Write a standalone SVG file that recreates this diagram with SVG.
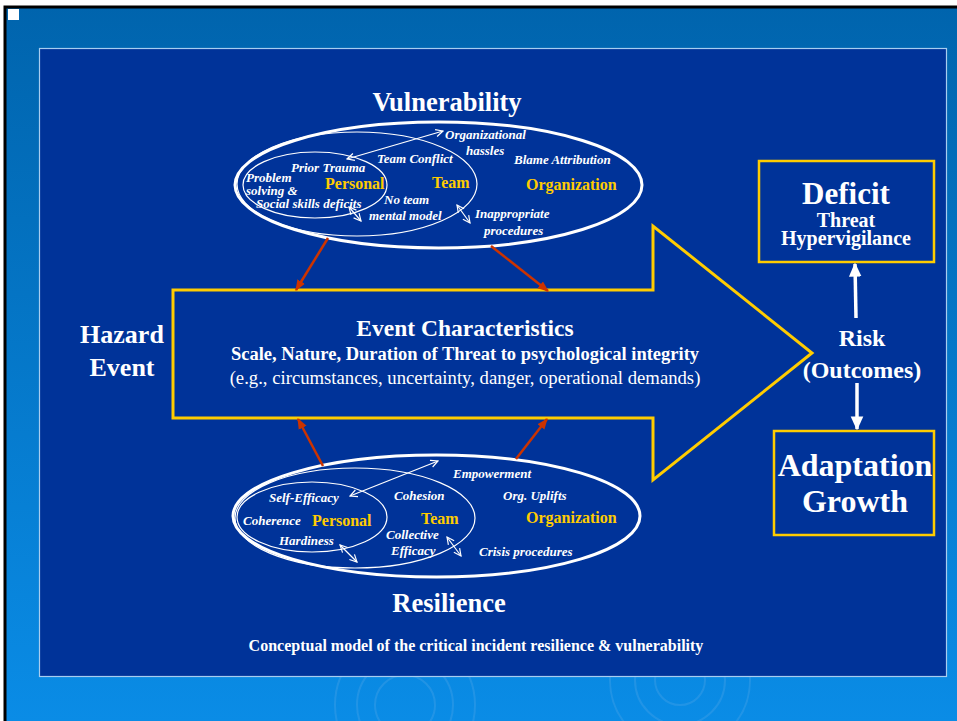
<svg xmlns="http://www.w3.org/2000/svg" width="957" height="721" viewBox="0 0 957 721">
<defs>
<linearGradient id="bg" x1="0" y1="0" x2="0" y2="1">
<stop offset="0" stop-color="#0064AD"/>
<stop offset="1" stop-color="#0A8CE6"/>
</linearGradient>
<marker id="wopen" viewBox="0 0 10 10" refX="9" refY="5" markerWidth="9" markerHeight="9" markerUnits="userSpaceOnUse" orient="auto-start-reverse">
<path d="M1,1 L9,5 L1,9" fill="none" stroke="#fff" stroke-width="1.3"/>
</marker>
<marker id="red" viewBox="0 0 10 10" refX="9" refY="5" markerWidth="11" markerHeight="11" markerUnits="userSpaceOnUse" orient="auto">
<path d="M0,1 L10,5 L0,9 Z" fill="#CC3300"/>
</marker>
<marker id="wfill" viewBox="0 0 10 10" refX="9" refY="5" markerWidth="14" markerHeight="14" markerUnits="userSpaceOnUse" orient="auto">
<path d="M0,0.5 L10,5 L0,9.5 Z" fill="#fff"/>
</marker>
<style>
text{font-family:"Liberation Serif","Times New Roman",serif;fill:#fff}
.b{font-weight:bold}
.it{font-style:italic;font-weight:bold;font-size:13px}
.y{fill:#FFCC00;font-weight:bold;font-size:16px}
.c{text-anchor:middle}
.outer{fill:none;stroke:#fff;stroke-width:3}
.thin{fill:none;stroke:#fff;stroke-width:1.2}
.dbl{stroke:#fff;stroke-width:1.2;fill:none;marker-start:url(#wopen);marker-end:url(#wopen)}
.redc{stroke:#CC3300;stroke-width:2.5;fill:none;marker-end:url(#red)}
.box{fill:none;stroke:#FFCC00;stroke-width:2.5}
</style>
</defs>
<rect x="0" y="0" width="957" height="721" fill="#fff"/>
<rect x="5" y="6" width="952" height="715" fill="url(#bg)"/>
<g fill="none" stroke="#5aa8e8" stroke-opacity="0.3" stroke-width="2">
<circle cx="405" cy="705" r="30"/><circle cx="405" cy="705" r="48"/><circle cx="405" cy="705" r="70"/>
<circle cx="680" cy="680" r="25"/><circle cx="680" cy="680" r="45"/><circle cx="680" cy="680" r="70"/>
</g>
<path d="M5,721 V7 H957" fill="none" stroke="#000" stroke-width="3"/>
<rect x="8" y="9" width="11" height="11" fill="#fff"/>
<rect id="panel" x="39.5" y="48.5" width="907" height="628" fill="#003399" stroke="#a8cdf0" stroke-width="1.2"/>

<g id="event-arrow">
<path d="M173,290 H653 V226 L812,353 L653,480 V418 H173 Z" fill="none" stroke="#FFCC00" stroke-width="3"/>
<text class="b c" x="465" y="336" font-size="23.5">Event Characteristics</text>
<text class="b c" x="465" y="360" font-size="18.5">Scale, Nature, Duration of Threat to psychological integrity</text>
<text class="c" x="465" y="384" font-size="18.7">(e.g., circumstances, uncertainty, danger, operational demands)</text>
</g>

<g id="hazard">
<text class="b c" x="122" y="343" font-size="26">Hazard</text>
<text class="b c" x="122" y="376" font-size="26">Event</text>
</g>

<g id="vulnerability">
<text class="b c" x="447" y="111" font-size="26.5">Vulnerability</text>
<ellipse class="outer" cx="438.5" cy="185" rx="203.5" ry="63"/>
<ellipse class="thin" cx="357" cy="184" rx="120" ry="52"/>
<ellipse class="thin" cx="315" cy="185" rx="72" ry="33"/>
<text class="it" x="445" y="139">Organizational</text>
<text class="it" x="466" y="155">hassles</text>
<text class="it" x="377" y="163">Team Conflict</text>
<text class="it" x="514" y="164">Blame Attribution</text>
<text class="it" x="291" y="172">Prior Trauma</text>
<text class="it" x="246" y="182">Problem</text>
<text class="it" x="246" y="195">solving &amp;</text>
<text class="it" x="256" y="208">Social skills deficits</text>
<text class="y" x="325" y="189">Personal</text>
<text class="y" x="432" y="188">Team</text>
<text class="y" x="526" y="190">Organization</text>
<text class="it" x="384" y="204">No team</text>
<text class="it" x="369" y="220">mental model</text>
<text class="it" x="475" y="218">Inappropriate</text>
<text class="it" x="484" y="235">procedures</text>
</g>

<g id="resilience">
<text class="b c" x="449" y="612" font-size="26.5">Resilience</text>
<ellipse class="outer" cx="436.5" cy="516" rx="203.5" ry="61"/>
<ellipse class="thin" cx="355" cy="518" rx="120" ry="50"/>
<ellipse class="thin" cx="312" cy="517" rx="75" ry="35"/>
<text class="it" x="453" y="478">Empowerment</text>
<text class="it" x="269" y="502">Self-Efficacy</text>
<text class="it" x="394" y="500">Cohesion</text>
<text class="it" x="503" y="500">Org. Uplifts</text>
<text class="it" x="243" y="525">Coherence</text>
<text class="y" x="312" y="526">Personal</text>
<text class="y" x="421" y="524">Team</text>
<text class="y" x="526" y="523">Organization</text>
<text class="it" x="386" y="539">Collective</text>
<text class="it" x="391" y="555">Efficacy</text>
<text class="it" x="279" y="545">Hardiness</text>
<text class="it" x="479" y="556">Crisis procedures</text>
</g>

<g id="deficit">
<rect class="box" x="759" y="161" width="175" height="101"/>
<text class="b c" x="846" y="204" font-size="31">Deficit</text>
<text class="b c" x="846" y="227" font-size="20">Threat</text>
<text class="b c" x="846" y="245" font-size="20">Hypervigilance</text>
</g>

<g id="risk">
<text class="b c" x="862" y="346" font-size="24">Risk</text>
<text class="b c" x="862" y="378" font-size="24">(Outcomes)</text>
</g>

<g id="adaptation">
<rect class="box" x="774" y="431" width="160" height="104"/>
<text class="b c" x="855" y="476" font-size="32">Adaptation</text>
<text class="b c" x="855" y="512" font-size="32">Growth</text>
</g>

<g id="connectors">
<line class="dbl" x1="347" y1="159" x2="443" y2="131"/>
<line class="dbl" x1="349" y1="207" x2="361" y2="221"/>
<line class="dbl" x1="457" y1="205" x2="470" y2="223"/>
<line class="dbl" x1="350" y1="496" x2="438" y2="461"/>
<line class="dbl" x1="340" y1="545" x2="357" y2="562"/>
<line class="dbl" x1="447" y1="537" x2="461" y2="556"/>
<line class="redc" x1="328" y1="238" x2="296" y2="290"/>
<line class="redc" x1="491" y1="246" x2="548" y2="291"/>
<line class="redc" x1="323" y1="466" x2="298" y2="419"/>
<line class="redc" x1="516" y1="459" x2="547" y2="419"/>
<line x1="856" y1="318" x2="855" y2="264" stroke="#fff" stroke-width="3.5" marker-end="url(#wfill)"/>
<line x1="857" y1="383" x2="857" y2="429" stroke="#fff" stroke-width="3.5" marker-end="url(#wfill)"/>
</g>

<text class="b c" x="476" y="651" font-size="16">Conceptual model of the critical incident resilience &amp; vulnerability</text>
</svg>
